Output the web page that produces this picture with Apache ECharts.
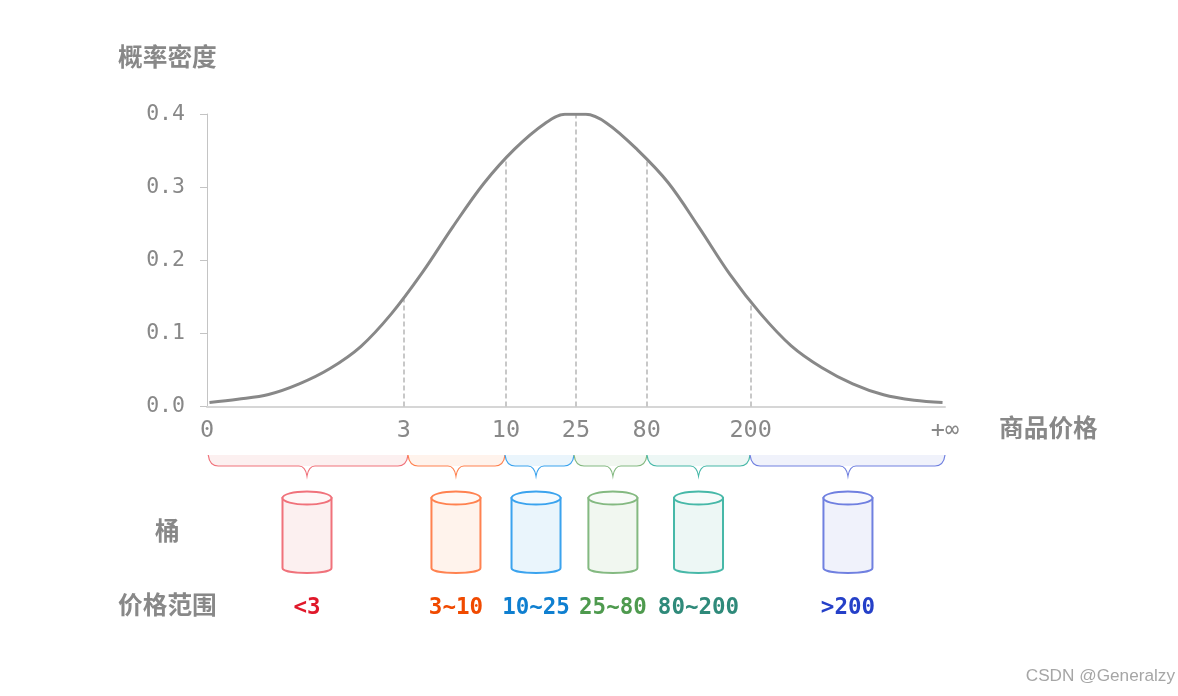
<!DOCTYPE html>
<html>
<head>
<meta charset="utf-8">
<title>桶排序</title>
<script src="https://cdn.jsdelivr.net/npm/echarts@6/dist/echarts.min.js"></script>
<style>
  html, body { margin: 0; padding: 0; background: #fff; }
  #chart { width: 1178px; height: 696px; }
</style>
</head>
<body>
<div id="chart"></div>
<script>
// 横轴是示意刻度：以 25 为中心，-3 ~ 3 对应 0 ~ +∞
var curveX = [-2.98, -2.75, -2.5, -2.25, -2, -1.75, -1.5, -1.25, -1, -0.75, -0.5, -0.25, -0.09,
  0.08, 0.25, 0.5, 0.75, 1, 1.25, 1.5, 1.75, 2, 2.25, 2.5, 2.75, 2.98];
var curveY = [0.0055, 0.010, 0.0165, 0.031, 0.052, 0.082, 0.127, 0.183, 0.246, 0.305, 0.352, 0.3875, 0.3995,
  0.3995, 0.3875, 0.351, 0.306, 0.245, 0.181, 0.127, 0.083, 0.053, 0.031, 0.016, 0.0085, 0.0055];

var tickPos = [-3, -1.40, -0.57, 0, 0.575, 1.42, 3];
var tickText = ['0', '3', '10', '25', '80', '200', '+∞'];
var guideX = [-1.40, -0.57, 0, 0.575, 1.42];
var guideY = [0.1468, 0.339, 0.4, 0.3375, 0.1437];

var bucketNames = ['<3', '3~10', '10~25', '25~80', '80~200', '>200'];
var bucketCenter = [-2.187, -0.976, -0.325, 0.30, 0.996, 2.211];
var bucketLeft = [-2.99, -1.366, -0.577, -0.016, 0.577, 1.415];
var bucketRight = [-1.366, -0.577, -0.016, 0.577, 1.415, 3.0];
var strokeColors = ['#f0727b', '#ff8250', '#3ba3ee', '#84b981', '#47b8a8', '#7080e0'];
var fillColors = ['#fcf0f0', '#fff3ec', '#eaf5fc', '#f1f7f0', '#edf7f5', '#f0f2fb'];
var topColors = ['#fef7f7', '#fff9f5', '#f4fafe', '#f8fbf8', '#f6fbfa', '#f7f8fd'];
var textColors = ['#e0182a', '#f04a00', '#0f7fd0', '#4e9a4e', '#2f8a7a', '#2540c8'];

var FONT_CN = '"Noto Sans CJK SC", sans-serif';
var FONT_MONO = '"DejaVu Sans Mono", monospace';

function bracePath(l, r, tip, y0, y1, y2) {
  return 'M' + l + ' ' + y0 +
    'C' + (l + 1) + ' ' + (y1 - 3) + ' ' + (l + 5) + ' ' + y1 + ' ' + (l + 10) + ' ' + y1 +
    'L' + (tip - 8) + ' ' + y1 +
    'C' + (tip - 4) + ' ' + y1 + ' ' + (tip - 1) + ' ' + (y1 + 4) + ' ' + tip + ' ' + y2 +
    'C' + (tip + 1) + ' ' + (y1 + 4) + ' ' + (tip + 4) + ' ' + y1 + ' ' + (tip + 8) + ' ' + y1 +
    'L' + (r - 10) + ' ' + y1 +
    'C' + (r - 5) + ' ' + y1 + ' ' + (r - 1) + ' ' + (y1 - 3) + ' ' + r + ' ' + y0;
}

function cylinderPath(cx, top, bottom, rx, ry) {
  return 'M' + (cx - rx) + ' ' + top + 'L' + (cx - rx) + ' ' + bottom +
    'C' + (cx - rx) + ' ' + (bottom + ry * 1.3) + ' ' + (cx + rx) + ' ' + (bottom + ry * 1.3) + ' ' + (cx + rx) + ' ' + bottom +
    'L' + (cx + rx) + ' ' + top + 'Z';
}

function renderBucket(params, api) {
  var i = params.dataIndex;
  var base = params.coordSys.y;
  var cx = api.coord([api.value(0), 0])[0];
  var l = api.coord([api.value(1), 0])[0];
  var r = api.coord([api.value(2), 0])[0];
  var stroke = strokeColors[i];
  return {
    type: 'group',
    children: [
      { type: 'rect', shape: { x: l, y: base + 15, width: r - l, height: 11, r: [0, 0, 10, 10] }, style: { fill: fillColors[i] } },
      { type: 'path', shape: { pathData: bracePath(l, r, cx, base + 15, base + 26, base + 36) }, style: { fill: 'none', stroke: stroke, lineWidth: 1.2 } },
      { type: 'path', shape: { pathData: cylinderPath(cx, base + 58, base + 128, 24.5, 5) }, style: { fill: fillColors[i], stroke: stroke, lineWidth: 2 } },
      { type: 'ellipse', shape: { cx: cx, cy: base + 58, rx: 24.5, ry: 6.5 }, style: { fill: topColors[i], stroke: stroke, lineWidth: 2 } },
      { type: 'text', style: { text: bucketNames[i], x: cx, y: base + 168, fill: textColors[i], font: 'bold 22.5px ' + FONT_MONO, textAlign: 'center', textVerticalAlign: 'middle' } }
    ]
  };
}

var curveData = curveX.map(function (x, i) { return [x, curveY[i]]; });
var guideLines = guideX.map(function (x, i) {
  return [{ coord: [x, 0] }, { coord: [x, guideY[i]] }];
});
var bucketData = bucketCenter.map(function (c, i) { return [c, bucketLeft[i], bucketRight[i]]; });

var dom = document.getElementById('chart');
var myChart = echarts.init(dom);
var option = {
  backgroundColor: '#fff',
  animation: false,
  grid: [
    { left: 207, right: 233, top: 114, bottom: 289.5 },
    { left: 207, right: 233, top: 440, height: 190 }
  ],
  xAxis: [
    {
      type: 'value', gridIndex: 0, min: -3, max: 3,
      splitLine: { show: false },
      axisLine: { onZero: false, lineStyle: { color: '#d6d6d6', width: 2 } },
      axisTick: { show: false },
      axisLabel: {
        customValues: tickPos,
        margin: 12,
        color: '#888',
        fontFamily: FONT_MONO,
        fontSize: 23.5,
        formatter: function (v) { return tickText[tickPos.indexOf(v)]; }
      }
    },
    { type: 'value', gridIndex: 1, min: -3, max: 3, show: false }
  ],
  yAxis: [
    {
      type: 'value', gridIndex: 0, min: 0, max: 0.4, interval: 0.1,
      splitLine: { show: false },
      axisLine: { show: true, onZero: false, lineStyle: { color: '#c4c4c4', width: 1 } },
      axisTick: { show: true, length: 7, lineStyle: { color: '#c4c4c4' } },
      axisLabel: {
        margin: 22,
        color: '#888',
        fontFamily: FONT_MONO,
        fontSize: 21.5,
        formatter: function (v) { return v.toFixed(1); }
      }
    },
    { type: 'value', gridIndex: 1, min: 0, max: 1, show: false }
  ],
  series: [
    {
      type: 'line',
      xAxisIndex: 0,
      yAxisIndex: 0,
      data: curveData,
      smooth: 0.35,
      showSymbol: false,
      lineStyle: { color: '#888', width: 3 },
      z: 3,
      markLine: {
        silent: true,
        symbol: 'none',
        label: { show: false },
        lineStyle: { color: '#bbb', type: [5, 3], width: 1.6 },
        data: guideLines,
        z: 2
      }
    },
    {
      type: 'custom',
      xAxisIndex: 1,
      yAxisIndex: 1,
      data: bucketData,
      encode: { x: [0, 1, 2] },
      clip: false,
      renderItem: renderBucket
    }
  ],
  graphic: [
    { type: 'text', left: 118, top: 44, style: { text: '概率密度', fill: '#888', font: 'bold 24.7px ' + FONT_CN } },
    { type: 'text', left: 999, top: 415, style: { text: '商品价格', fill: '#888', font: 'bold 24.7px ' + FONT_CN } },
    { type: 'text', left: 155, top: 518, style: { text: '桶', fill: '#888', font: 'bold 24.7px ' + FONT_CN } },
    { type: 'text', left: 118, top: 592, style: { text: '价格范围', fill: '#888', font: 'bold 24.7px ' + FONT_CN } },
    { type: 'text', right: 3, top: 668, style: { text: 'CSDN @Generalzy', fill: '#a6a6a6', font: '17.2px "Liberation Sans", Arial, sans-serif' } }
  ]
};
myChart.setOption(option, true);
</script>
</body>
</html>
